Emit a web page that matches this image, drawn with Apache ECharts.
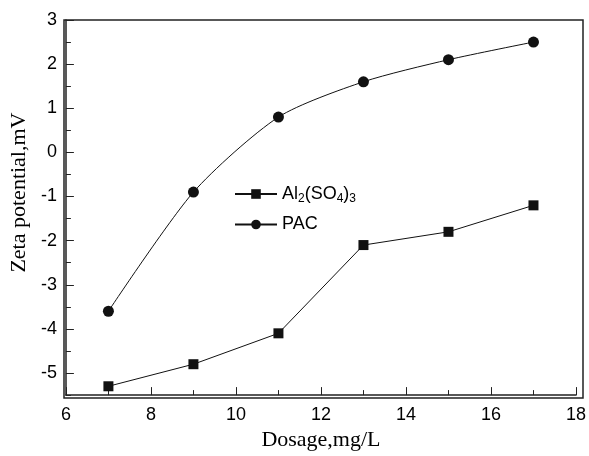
<!DOCTYPE html>
<html>
<head>
<meta charset="utf-8">
<script src="https://cdn.jsdelivr.net/npm/echarts@6/dist/echarts.min.js"></script>
<style>
  html, body { margin: 0; padding: 0; background: #fff; }
  #chart { width: 589px; height: 456px; }
</style>
</head>
<body>
<div id="chart"></div>
<script>
const dosage = [7, 9, 11, 13, 15, 17];
const alSulfate = [-5.3, -4.8, -4.1, -2.1, -1.8, -1.2];
const pac = [-3.6, -0.9, 0.8, 1.6, 2.1, 2.5];
const yMajor = [-5, -4, -3, -2, -1, 0, 1, 2, 3];
const yMinor = [-5.5, -4.5, -3.5, -2.5, -1.5, -0.5, 0.5, 1.5, 2.5];

const myChart = echarts.init(document.getElementById('chart'));

const axisFont = 'Liberation Sans, Arial, sans-serif';
const nameFont = 'Liberation Serif, Times New Roman, serif';

var option = {
  animation: false,
  grid: { left: 64, right: 6, top: 20, bottom: 58 },
  legend: {
    orient: 'vertical',
    left: 229,
    top: 180,
    itemWidth: 42,
    itemHeight: 12,
    itemGap: 11,
    data: ['Al2(SO4)3', 'PAC'],
    formatter: function (name) {
      if (name === 'PAC') return '{a|PAC}';
      return '{a|Al}{s|2}{a|(SO}{s|4}{a|)}{s|3}';
    },
    textStyle: {
      rich: {
        a: { fontFamily: axisFont, fontSize: 18, color: '#000' },
        s: { fontFamily: axisFont, fontSize: 12, color: '#000', verticalAlign: 'bottom', padding: [9, 0, 0, 0] }
      }
    }
  },
  xAxis: {
    type: 'value',
    min: 6,
    max: 18,
    interval: 2,
    name: 'Dosage,mg/L',
    nameLocation: 'middle',
    nameGap: 33,
    nameTextStyle: { fontFamily: nameFont, fontSize: 22, color: '#000' },
    axisLine: { show: true, onZero: false, lineStyle: { color: '#222', width: 1.5 } },
    axisTick: { show: true, inside: true, length: 8, lineStyle: { color: '#222' } },
    minorTick: { show: true, splitNumber: 2, length: 5, lineStyle: { color: '#222' } },
    axisLabel: { fontFamily: axisFont, fontSize: 18, color: '#000', margin: 11 },
    splitLine: { show: false }
  },
  yAxis: [
    {
      type: 'value',
      min: -5.5,
      max: 3,
      name: 'Zeta potential,mV',
      nameLocation: 'middle',
      nameGap: 31,
      nameTextStyle: { fontFamily: nameFont, fontSize: 22, color: '#000', padding: [0, 0, 0, 30] },
      axisLine: { show: true, onZero: false, lineStyle: { color: '#222', width: 1.5 } },
      axisTick: { show: true, inside: true, length: 8, customValues: yMajor, lineStyle: { color: '#222' } },
      axisLabel: { fontFamily: axisFont, fontSize: 18, color: '#000', margin: 9, customValues: yMajor },
      splitLine: { show: false }
    },
    {
      type: 'value',
      min: -5.5,
      max: 3,
      position: 'left',
      axisLine: { show: false },
      axisTick: { show: true, inside: true, length: 5, customValues: yMinor, lineStyle: { color: '#222' } },
      axisLabel: { show: false },
      splitLine: { show: false }
    }
  ],
  series: [
    {
      name: 'Al2(SO4)3',
      type: 'line',
      data: dosage.map((d, i) => [d, alSulfate[i]]),
      symbol: 'rect',
      symbolSize: 10,
      itemStyle: { color: '#111' },
      lineStyle: { color: '#111', width: 1 }
    },
    {
      name: 'PAC',
      type: 'line',
      data: dosage.map((d, i) => [d, pac[i]]),
      symbol: 'circle',
      symbolSize: 11,
      smooth: 0.25,
      itemStyle: { color: '#111' },
      lineStyle: { color: '#111', width: 1 }
    }
  ],
  graphic: [
    {
      type: 'rect',
      shape: { x: 64, y: 20, width: 519, height: 378 },
      style: { fill: 'none', stroke: '#222', lineWidth: 1.5 },
      silent: true
    }
  ]
};

myChart.setOption(option);
window.addEventListener('resize', function () {
  myChart.resize();
});
</script>
</body>
</html>
